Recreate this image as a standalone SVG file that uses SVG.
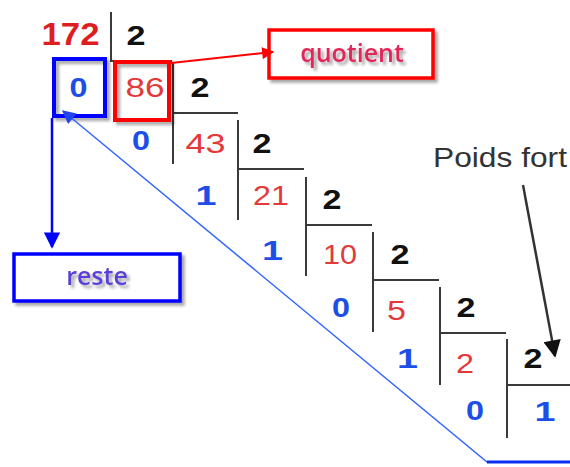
<svg xmlns="http://www.w3.org/2000/svg" width="570" height="467" viewBox="0 0 570 467">
  <defs>
    <filter id="shadow" x="-20%" y="-20%" width="150%" height="160%">
      <feDropShadow dx="3" dy="3" stdDeviation="1.5" flood-color="#000" flood-opacity="0.35"/>
    </filter>
    <marker id="arrowRed" viewBox="0 0 10 10" refX="9" refY="5" markerWidth="8" markerHeight="6" orient="auto" markerUnits="strokeWidth">
      <path d="M0,0 L10,5 L0,10 z" fill="#ff0000"/>
    </marker>
    <marker id="arrowBlue" viewBox="0 0 10 10" refX="9" refY="5" markerWidth="7.5" markerHeight="6.5" orient="auto" markerUnits="strokeWidth">
      <path d="M0,0 L10,5 L0,10 z" fill="#0000ff"/>
    </marker>
    <marker id="arrowBlueThin" viewBox="0 0 10 10" refX="9" refY="5" markerWidth="11" markerHeight="9" orient="auto" markerUnits="strokeWidth">
      <path d="M0,0 L10,5 L0,10 z" fill="#2244ee"/>
    </marker>
    <marker id="arrowDark" viewBox="0 0 10 10" refX="9" refY="5" markerWidth="8" markerHeight="7" orient="auto" markerUnits="strokeWidth">
      <path d="M0,0 L10,5 L0,10 z" fill="#111"/>
    </marker>
  </defs>
  <style>
    .rule { stroke: #3a3a3a; stroke-width: 2; fill: none; }
    .num { font-family: "Liberation Sans", Arial, sans-serif; text-anchor: middle; }
    .dividend { font-size: 31px; font-weight: bold; fill: #dd1f1f; }
    .div { font-size: 27px; font-weight: bold; fill: #111; }
    .quo { font-size: 28px; fill: #e23a3a; }
    .rem { font-size: 27px; font-weight: bold; fill: #1d4fe8; }
    .label { font-family: "Open Sans", "Liberation Sans", sans-serif; font-size: 25px; text-anchor: middle; }
    .note { font-family: "Liberation Sans", Arial, sans-serif; font-size: 28px; fill: #333; }
  </style>
  <rect width="570" height="467" fill="#ffffff"/>

  <!-- division ladder: vertical and horizontal rules -->
  <g id="ladder">
    <path class="rule" d="M111,12 V62 M111,61 H172"/>
    <path class="rule" d="M173,62 V164 M173,113 H238"/>
    <path class="rule" d="M238,120 V220 M238,169 H304"/>
    <path class="rule" d="M306,177 V276 M306,225 H372"/>
    <path class="rule" d="M373,232 V332 M373,280 H439"/>
    <path class="rule" d="M440,287 V385 M440,333 H506"/>
    <path class="rule" d="M507,339 V438 M507,385 H570"/>
  </g>

  <!-- numbers of the successive divisions -->
  <g id="numbers">
    <text class="num dividend" x="70.5" y="45" textLength="58" lengthAdjust="spacingAndGlyphs">172</text>
    <text class="num div" x="136" y="45" textLength="19" lengthAdjust="spacingAndGlyphs">2</text>

    <text class="num quo" x="145" y="97" textLength="39" lengthAdjust="spacingAndGlyphs">86</text>
    <text class="num div" x="200" y="97" textLength="19" lengthAdjust="spacingAndGlyphs">2</text>

    <text class="num rem" x="141" y="150" textLength="18" lengthAdjust="spacingAndGlyphs">0</text>
    <text class="num quo" x="205.5" y="153" textLength="40" lengthAdjust="spacingAndGlyphs">43</text>
    <text class="num div" x="262" y="153" textLength="19" lengthAdjust="spacingAndGlyphs">2</text>

    <text class="num rem" x="206" y="205" textLength="21" lengthAdjust="spacingAndGlyphs">1</text>
    <text class="num quo" x="271" y="205" textLength="36" lengthAdjust="spacingAndGlyphs">21</text>
    <text class="num div" x="332" y="209" textLength="19" lengthAdjust="spacingAndGlyphs">2</text>

    <text class="num rem" x="272.5" y="260" textLength="21" lengthAdjust="spacingAndGlyphs">1</text>
    <text class="num quo" x="340" y="264" textLength="34" lengthAdjust="spacingAndGlyphs">10</text>
    <text class="num div" x="400" y="264" textLength="19" lengthAdjust="spacingAndGlyphs">2</text>

    <text class="num rem" x="341" y="317" textLength="18" lengthAdjust="spacingAndGlyphs">0</text>
    <text class="num quo" x="396.5" y="320" textLength="19" lengthAdjust="spacingAndGlyphs">5</text>
    <text class="num div" x="466" y="317" textLength="19" lengthAdjust="spacingAndGlyphs">2</text>

    <text class="num rem" x="407.5" y="368" textLength="21" lengthAdjust="spacingAndGlyphs">1</text>
    <text class="num quo" x="465" y="373" textLength="18" lengthAdjust="spacingAndGlyphs">2</text>
    <text class="num div" x="533" y="368" textLength="19" lengthAdjust="spacingAndGlyphs">2</text>

    <text class="num rem" x="475" y="420" textLength="18" lengthAdjust="spacingAndGlyphs">0</text>
    <text class="num rem" x="545" y="421" textLength="21" lengthAdjust="spacingAndGlyphs">1</text>
  </g>

  <!-- first remainder, framed -->
  <g id="first-remainder">
    <rect x="54" y="59" width="51" height="57" fill="none" stroke="#0000ff" stroke-width="4" filter="url(#shadow)"/>
    <text class="num rem" x="78.5" y="97" textLength="18" lengthAdjust="spacingAndGlyphs">0</text>
  </g>

  <!-- first quotient, framed -->
  <g id="first-quotient">
    <rect x="115" y="62" width="54" height="58" fill="none" stroke="#ff0000" stroke-width="4" filter="url(#shadow)"/>
  </g>

  <!-- callout boxes -->
  <g id="quotient">
    <rect x="269" y="30" width="164" height="48" fill="#fff" stroke="#ff0000" stroke-width="3.5" filter="url(#shadow)"/>
    <text class="label" x="352" y="62" fill="#e2285a" font-weight="600" filter="url(#shadow)">quotient</text>
  </g>
  <g id="reste">
    <rect x="14" y="254" width="166" height="47" fill="#fff" stroke="#0000ff" stroke-width="3.5" filter="url(#shadow)"/>
    <text class="label" x="97" y="285" fill="#5a3fd8" font-weight="600" filter="url(#shadow)">reste</text>
  </g>
  <g id="poids-fort">
    <text class="note" x="433" y="167" textLength="134" lengthAdjust="spacingAndGlyphs">Poids fort</text>
  </g>

  <!-- connectors -->
  <g id="connectors" fill="none">
    <path d="M171,63 L273,52" stroke="#ff0000" stroke-width="2" marker-end="url(#arrowRed)"/>
    <path d="M52,118 V247" stroke="#0000ff" stroke-width="2.5" marker-end="url(#arrowBlue)"/>
    <path d="M570,462 H487 L63,111" stroke="#3366ff" stroke-width="1.5" marker-end="url(#arrowBlueThin)"/>
    <path d="M487,462 H570" stroke="#0a2ef0" stroke-width="3"/>
    <path d="M523,185 L555,356" stroke="#333" stroke-width="2.5" marker-end="url(#arrowDark)"/>
  </g>
</svg>
